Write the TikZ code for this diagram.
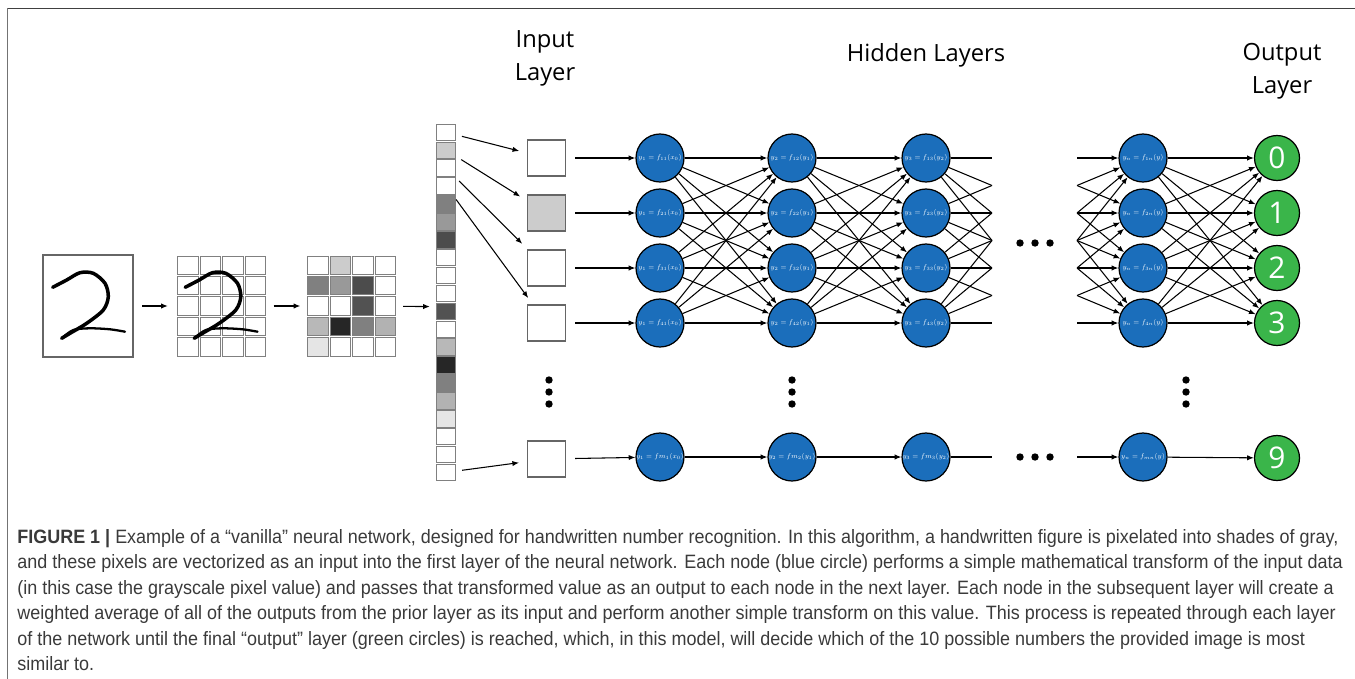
\documentclass[tikz,border=0pt]{standalone}
\usepackage{graphicx}
\usepackage{fontspec}
\setmainfont{Liberation Sans}
\newfontfamily\labelfont{Open Sans}
\newfontfamily\capfont[FakeStretch=0.93]{Liberation Sans}
\usetikzlibrary{arrows.meta, calc}

\definecolor{nodeblue}{HTML}{1B6EBB}
\definecolor{nodegreen}{HTML}{3AB54A}
\definecolor{captext}{HTML}{3A3A3A}

\def\pixlist{white, black!20, white, white, black!50, black!40, black!70, white, white, white, black!68, white, black!28, black!85, black!50, black!30, black!10, white, white, white}
\newcommand{\fnlab}[1]{\scalebox{0.55}{$#1$}}

\begin{document}
\begin{tikzpicture}[
    x=0.02cm, y=-0.02cm,
    >={Latex[length=3.8pt,width=3pt]},
    wire/.style={line width=0.6pt, black},
    pixel/.style={rectangle, draw=black!50, line width=0.5pt, minimum width=0.41cm, minimum height=0.37cm, inner sep=0pt},
    vcell/.style={rectangle, draw=black!50, line width=0.5pt, minimum width=0.38cm, minimum height=0.33cm, inner sep=0pt},
    insq/.style={rectangle, draw=black!60, line width=0.6pt, minimum width=0.76cm, minimum height=0.72cm, inner sep=0pt},
    hid/.style={circle, draw=black, line width=0.7pt, fill=nodeblue, minimum size=0.96cm, inner sep=0pt, text=white, font=\fontsize{7}{8}\selectfont},
    outn/.style={circle, draw=black, line width=0.7pt, fill=nodegreen, minimum size=0.9cm, inner sep=0pt, text=white, font=\labelfont\fontsize{17}{17}\selectfont},
    lbl/.style={align=center, inner sep=0pt, font=\labelfont\fontsize{13.5}{18.7}\selectfont},
    handtwo/.pic={
      \draw[line width=2pt, line cap=round, line join=round] plot[smooth] coordinates {(9.7,32.3) (23.7,25) (37,17.7) (50.3,18.3) (62,28.3) (65.3,41.7) (60.3,55) (43.7,68.3) (27,78.3) (18.7,83.3)};
      \draw[line width=1.3pt, line cap=round] plot[smooth] coordinates {(18.7,83.3) (30.3,75) (47,73.3) (67,74.3) (82,76.7)};
    }
  ]
    \useasboundingbox (0,0) rectangle (1355,679);
    \draw[black!75, line width=0.7pt] (7.5,8.5) -- (1355,8.5);
    \draw[black!55, line width=0.6pt] (7.5,8.5) -- (7.5,679);

    % digit, pixel grids and vector
    \node[draw=black!60, line width=0.7pt, minimum width=1.8cm, minimum height=2.04cm] (digit) at (88,306) {};
    \node[minimum width=1.8cm, minimum height=2.04cm, inner sep=0pt] (grida) at (221.7,306) {};
    \node[minimum width=1.8cm, minimum height=2.04cm, inner sep=0pt] (gridb) at (351.7,306) {};
    \node[minimum width=0.38cm, minimum height=7.34cm, inner sep=0pt] (vec) at (446.2,306.7) {};
    \foreach \shade [count=\n] in \pixlist {
      \pgfmathtruncatemacro\row{(\n-1)/4}
      \pgfmathtruncatemacro\col{mod(\n-1,4)}
      \node[pixel] (pa-\n) at (188+22.5*\col, 265.2+20.4*\row) {};
      \node[pixel, fill=\shade] (pb-\n) at (318+22.5*\col, 265.2+20.4*\row) {};
      \node[vcell, fill=\shade] (v\n) at (446.2, 114.4+17.9*\n) {};
    }
    \pic at (43,255) {handtwo};
    \pic at (175.5,255) {handtwo};
    \draw[wire, ->, shorten <=0.17cm, shorten >=0.17cm] (digit) -- (grida);
    \draw[wire, ->, shorten <=0.13cm, shorten >=0.12cm] (grida) -- (gridb);
    \draw[wire, ->, shorten <=0.12cm, shorten >=0.13cm] (gridb) -- (vec);

    % input layer
    \node[insq] (in1) at (546.5,158) {};
    \node[insq, fill=black!20] (in2) at (546.5,213) {};
    \node[insq] (in3) at (546.5,268) {};
    \node[insq] (in4) at (546.5,323) {};
    \node[insq] (inm) at (546.5,459) {};
    \foreach \i in {1,...,4}
      \draw[wire, ->, shorten <=0.12cm, shorten >=0.16cm] (v\i) -- (in\i);
    \draw[wire, ->, shorten <=0.12cm, shorten >=0.16cm] (v20) -- (inm);

    % hidden layers
    \foreach \lay/\xx/\arg in {1/660/x_0, 2/792/y_1, 3/926/y_2} {
      \foreach \i/\yr in {1/158, 2/213, 3/268, 4/323}
        \node[hid] (h\lay-\i) at (\xx,\yr) {\fnlab{y_{\lay} = f_{\i\lay}(\arg)}};
      \node[hid] (h\lay-m) at (\xx,457) {\fnlab{y_{\lay} = fm_{\lay}(\arg)}};
    }
    \foreach \i/\yr in {1/158, 2/213, 3/268, 4/323}
      \node[hid] (h4-\i) at (1143,\yr) {\fnlab{y_n = f_{\i n}(y)}};
    \node[hid] (h4-m) at (1143,457) {\fnlab{y_n = f_{mn}(y)}};

    % output layer
    \foreach \d/\yr in {0/158, 1/213, 2/268, 3/323}
      \node[outn] (o\d) at (1277,\yr) {\d};
    \node[outn] (o9) at (1277,458) {9};

    % cut ends either side of the gap
    \foreach \k in {2,...,8} {
      \coordinate (ra-\k) at (992, 103+27.5*\k);
      \coordinate (la-\k) at (1077, 103+27.5*\k);
    }
    \coordinate (ra-m) at (992,457);
    \coordinate (la-m) at (1077,457);

    % connections
    \foreach \i in {1,...,4} {
      \draw[wire, ->, shorten <=0.18cm] (in\i) -- (h1-\i);
      \foreach \j in {1,...,4} {
        \pgfmathtruncatemacro\k{\i+\j}
        \draw[wire, ->] (h1-\i) -- (h2-\j);
        \draw[wire, ->] (h2-\i) -- (h3-\j);
        \draw[wire] (h3-\i) -- (ra-\k);
        \draw[wire, ->] (la-\k) -- (h4-\j);
        \draw[wire, ->] (h4-\i) -- (o\the\numexpr\j-1\relax);
      }
    }
    \draw[wire, ->, shorten <=0.18cm] (inm) -- (h1-m);
    \draw[wire, ->] (h1-m) -- (h2-m);
    \draw[wire, ->] (h2-m) -- (h3-m);
    \draw[wire] (h3-m) -- (ra-m);
    \draw[wire, ->] (la-m) -- (h4-m);
    \draw[wire, ->] (h4-m) -- (o9);

    % dots
    \foreach \x in {1020,1035,1050} {
      \fill (\x,243) circle (0.074cm);
      \fill (\x,457) circle (0.074cm);
    }
    \foreach \x in {549,792,1186}
      \foreach \y in {380,392,404}
        \fill (\x,\y) circle (0.074cm);

    % layer titles
    \node[lbl] (inlab) at (545,58.5) {Input\\Layer};
    \node[lbl] (hidlab) at (926,55) {Hidden Layers};
    \node[lbl] (outlab) at (1282,71) {Output\\Layer};

    % caption
    \node[anchor=north west, inner sep=0pt, align=left, text=captext, font=\capfont\fontsize{11}{14.5}\selectfont] (caption) at (17,529) {\textbf{FIGURE 1 |} Example of a “vanilla” neural network, designed for handwritten number recognition. In this algorithm, a handwritten figure is pixelated into shades of gray,\\
and these pixels are vectorized as an input into the first layer of the neural network. Each node (blue circle) performs a simple mathematical transform of the input data\\
(in this case the grayscale pixel value) and passes that transformed value as an output to each node in the next layer. Each node in the subsequent layer will create a\\
weighted average of all of the outputs from the prior layer as its input and perform another simple transform on this value. This process is repeated through each layer\\
of the network until the final “output” layer (green circles) is reached, which, in this model, will decide which of the 10 possible numbers the provided image is most\\
similar to.};
  \end{tikzpicture}
\end{document}
